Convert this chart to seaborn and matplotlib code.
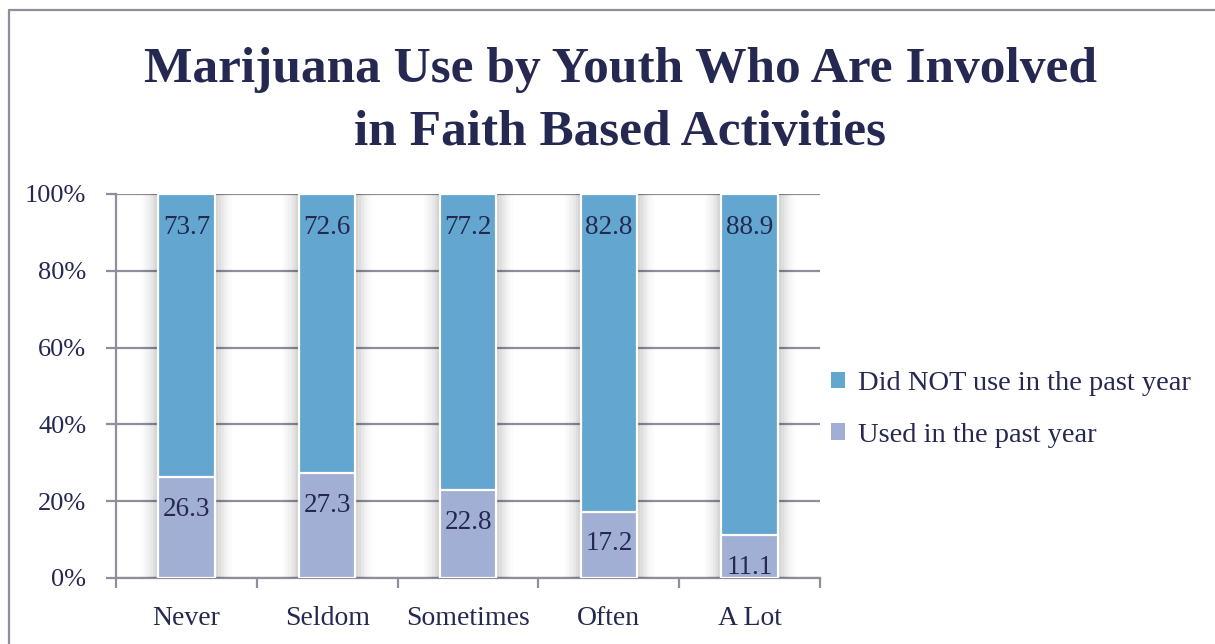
import matplotlib
matplotlib.use("Agg")
import matplotlib.pyplot as plt
import matplotlib.patheffects as pe
from matplotlib.lines import Line2D
from matplotlib.ticker import FixedLocator, PercentFormatter
import numpy as np
import pandas as pd
import seaborn as sns

# Survey results (percent of youth)
categories = ["Never", "Seldom", "Sometimes", "Often", "A Lot"]
used_past_year = [26.3, 27.3, 22.8, 17.2, 11.1]
not_used_past_year = [73.7, 72.6, 77.2, 82.8, 88.9]
y_ticks = [0, 20, 40, 60, 80, 100]

series_names = ["Did NOT use in the past year", "Used in the past year"]
title = "Marijuana Use by Youth Who Are Involved\nin Faith Based Activities"

BLUE = "#63a7d0"
LAVENDER = "#a0afd3"
INK = "#252850"
GRID = "#8f8f9b"

sns.set_theme(style="white")
plt.rcParams["font.family"] = ["Liberation Serif", "DejaVu Serif"]
plt.rcParams["text.color"] = INK

# 100% stacked: shares of each category total
totals = np.array(used_past_year) + np.array(not_used_past_year)
used_share = np.array(used_past_year) / totals * 100
df = pd.DataFrame({"category": categories,
                   "full": np.full(len(categories), 100.0),
                   "used": used_share})

fig = plt.figure(figsize=(12.15, 6.44), dpi=100)
ax = fig.add_axes([116 / 1215, 1 - 578 / 644, 704 / 1215, 384 / 644])

# soft shadow behind each bar
shadow = [pe.Stroke(linewidth=w, foreground="#000000", alpha=a, joinstyle="miter")
          for w, a in [(24, 0.015), (20, 0.02), (16, 0.025), (12, 0.03), (8, 0.04), (4, 0.05)]]
shadow.append(pe.Normal())

sns.barplot(data=df, x="category", y="full", color=BLUE, saturation=1,
            width=0.4, edgecolor="white", linewidth=1.6, ax=ax, zorder=3)
n_top = len(ax.patches)
sns.barplot(data=df, x="category", y="used", color=LAVENDER, saturation=1,
            width=0.4, edgecolor="white", linewidth=1.6, ax=ax, zorder=4)
for p in ax.patches[:n_top]:
    p.set_path_effects(shadow)

ax.set_ylim(0, 100)
ax.set_xlim(-0.5, len(categories) - 0.5)
ax.set_xlabel("")
ax.set_ylabel("")

# Grid and axes
ax.yaxis.set_major_locator(FixedLocator(y_ticks))
ax.yaxis.set_major_formatter(PercentFormatter(decimals=0))
ax.grid(axis="y", color=GRID, linewidth=1.6, zorder=1)
ax.set_axisbelow(True)
for side in ["top", "right"]:
    ax.spines[side].set_visible(False)
for side in ["left", "bottom"]:
    ax.spines[side].set_color(GRID)
    ax.spines[side].set_linewidth(1.6)
    ax.spines[side].set_zorder(2)

ax.tick_params(axis="y", which="major", direction="out", length=7.5, width=1.6,
               color=GRID, pad=14, labelsize=19, labelcolor=INK, left=True)
ax.tick_params(axis="x", which="major", length=0, pad=20.5, labelsize=20, labelcolor=INK)
ax.xaxis.set_minor_locator(FixedLocator(np.arange(-0.5, len(categories), 1.0)))
ax.tick_params(axis="x", which="minor", direction="out", length=7.5, width=1.6,
               color=GRID, bottom=True)

# Value labels near the top of each segment
for i, (u, n) in enumerate(zip(used_past_year, not_used_past_year)):
    ax.annotate(f"{n:.1f}", xy=(i, 100), xytext=(0, -33), textcoords="offset pixels",
                ha="center", va="center", fontsize=19.5, color=INK, zorder=6,
                annotation_clip=False)
    ax.annotate(f"{u:.1f}", xy=(i, used_share[i]), xytext=(0, -32), textcoords="offset pixels",
                ha="center", va="center", fontsize=19.5, color=INK, zorder=6,
                annotation_clip=False)

# Legend
handles = [plt.Rectangle((0, 0), 1, 1, facecolor=BLUE, edgecolor="none"),
           plt.Rectangle((0, 0), 1, 1, facecolor=LAVENDER, edgecolor="none")]
fig.legend(handles, series_names, loc="center left",
           bbox_to_anchor=(831 / 1215, 1 - 409.5 / 644), frameon=False,
           fontsize=20.5, handlelength=0.5, handleheight=0.5, handletextpad=0.45,
           labelspacing=0.92, borderpad=0, borderaxespad=0, labelcolor=INK)

# Title
fig.text(620 / 1215, 1 - 101.5 / 644, title, ha="center", va="center",
         fontsize=37, fontweight="bold", color=INK, linespacing=1.5)

# Outer frame
fig.add_artist(Line2D([8.5 / 1215, 8.5 / 1215], [0, 1 - 9.5 / 644],
                      transform=fig.transFigure, color=GRID, linewidth=1.6))
fig.add_artist(Line2D([8.5 / 1215, 1], [1 - 9.5 / 644, 1 - 9.5 / 644],
                      transform=fig.transFigure, color=GRID, linewidth=1.6))

fig.savefig("out.png", dpi=100, facecolor="white")
